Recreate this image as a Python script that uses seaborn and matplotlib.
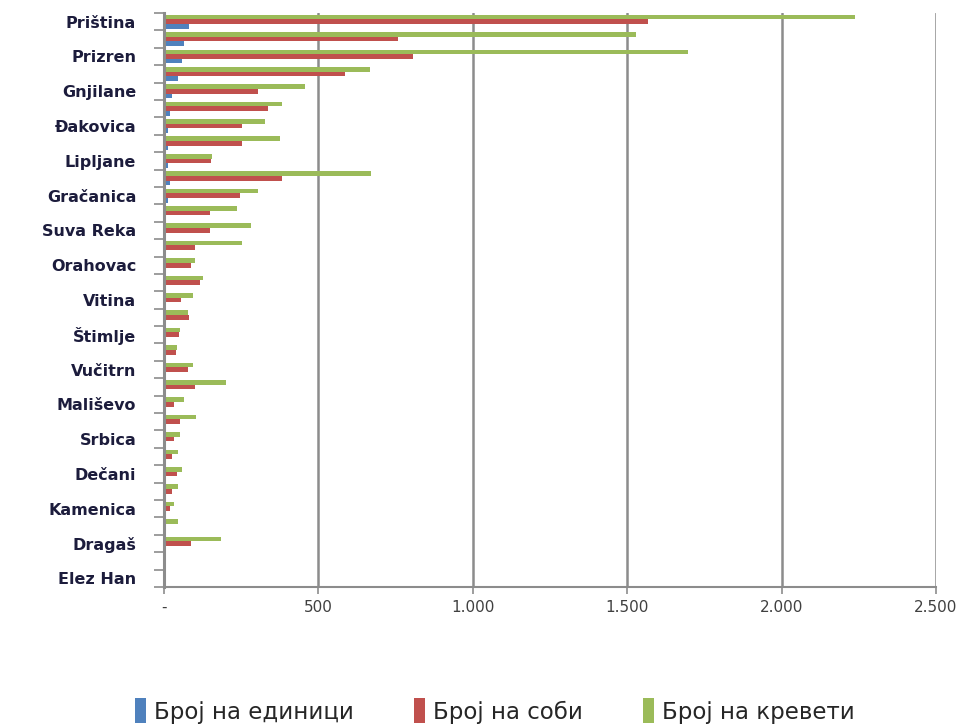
import matplotlib
matplotlib.use("Agg")
import matplotlib.pyplot as plt
from matplotlib.patches import Patch
import seaborn as sns
import pandas as pd
import numpy as np

# ---------------- data ----------------
municipalities = [
    "Priština", "Peć", "Prizren", "Uroševac", "Gnjilane", "Mitrovica",
    "Đakovica", "Kosovo Polje", "Lipljane", "Podujevo", "Gračanica", "Obilić",
    "Suva Reka", "Klina", "Orahovac", "Istok", "Vitina", "Kačanik",
    "Štimlje", "Glogovac", "Vučitrn", "Štrpce", "Mališevo", "Novo Brdo",
    "Srbica", "Junik", "Dečani", "Leposavić", "Kamenica", "Zvečan",
    "Dragaš", "Mamuša", "Elez Han",
]
units = [81, 64, 57, 44, 25, 19, 14, 12, 12, 18, 12, 6, 6, 5, 6, 6, 5, 5,
         4, 3, 5, 6, 4, 4, 3, 2, 3, 2, 2, 1, 3, 2, 1]
rooms = [1567, 759, 805, 586, 305, 337, 253, 253, 153, 382, 245, 148, 148,
         102, 86, 118, 55, 80, 48, 38, 78, 100, 33, 52, 32, 25, 41, 25, 18,
         3, 87, 4, 4]
beds = [2238, 1528, 1696, 668, 458, 382, 328, 377, 156, 670, 305, 238, 283,
        253, 102, 126, 95, 78, 52, 41, 95, 202, 66, 103, 52, 44, 57, 44, 32,
        44, 186, 5, 6]
series_names = ["Број на единици", "Број на соби", "Број на кревети"]
series_colors = ["#4F81BD", "#C0504D", "#9BBB59"]
x_ticks = [0, 500, 1000, 1500, 2000, 2500]
x_tick_labels = ["-", "500", "1.000", "1.500", "2.000", "2.500"]

# ---------------- long table ----------------
df = pd.DataFrame({
    "municipality": municipalities * 3,
    "series": [series_names[0]] * len(units) + [series_names[1]] * len(rooms)
              + [series_names[2]] * len(beds),
    "value": units + rooms + beds,
})
palette = dict(zip(series_names, series_colors))

sns.set_theme(style="white")
plt.rcParams["font.family"] = ["DejaVu Sans"]

fig = plt.figure(figsize=(9.76, 7.27), dpi=100)
ax = fig.add_axes([164 / 976, 1 - 587 / 727, (936 - 164) / 976, (587 - 13) / 727])

sns.barplot(
    data=df, y="municipality", x="value", hue="series",
    order=municipalities,
    hue_order=[series_names[2], series_names[1], series_names[0]],
    palette=palette, orient="h", width=0.8, saturation=1,
    legend=False, ax=ax, linewidth=0,
)

ax.set_xlim(0, 2500)
ax.set_ylim(len(municipalities) - 0.5, -0.5)
ax.set_xlabel("")
ax.set_ylabel("")

# vertical gridlines
ax.set_xticks(x_ticks)
ax.set_xticklabels(x_tick_labels, fontsize=11, color="#404040")
ax.grid(axis="x", color="#8c8c8c", linewidth=1.8)
ax.grid(axis="y", visible=False)
ax.set_axisbelow(True)

# y labels: every other one shown
ylabels = [m if i % 2 == 0 else "" for i, m in enumerate(municipalities)]
ax.set_yticks(range(len(municipalities)))
ax.set_yticklabels(ylabels, fontsize=11.5, fontweight="bold", color="#1c1c3c")
ax.set_yticks(np.arange(-0.5, len(municipalities), 1.0), minor=True)
ax.tick_params(axis="y", which="major", length=0, pad=20)
ax.tick_params(axis="y", which="minor", length=7, width=1.2, color="#8c8c8c",
               direction="out", left=True)
ax.tick_params(axis="x", which="major", length=5, width=1.2, color="#8c8c8c",
               direction="out", bottom=True, pad=4)

for s in ["top", "right"]:
    ax.spines[s].set_visible(False)
ax.spines["left"].set_color("#8c8c8c")
ax.spines["left"].set_linewidth(2.2)
ax.spines["bottom"].set_color("#8c8c8c")
ax.spines["bottom"].set_linewidth(1.5)

# legend (order: units, rooms, beds)
handles = [Patch(facecolor=c, edgecolor="none") for c in series_colors]
fig.legend(
    handles, series_names, loc="center", ncol=3, frameon=False,
    bbox_to_anchor=(0.507, 1 - 711 / 727),
    handlelength=0.5, handleheight=1.3, handletextpad=0.35,
    columnspacing=2.6, prop={"family": ["DejaVu Sans"], "size": 16.5},
)

fig.savefig("out.png", dpi=100)
